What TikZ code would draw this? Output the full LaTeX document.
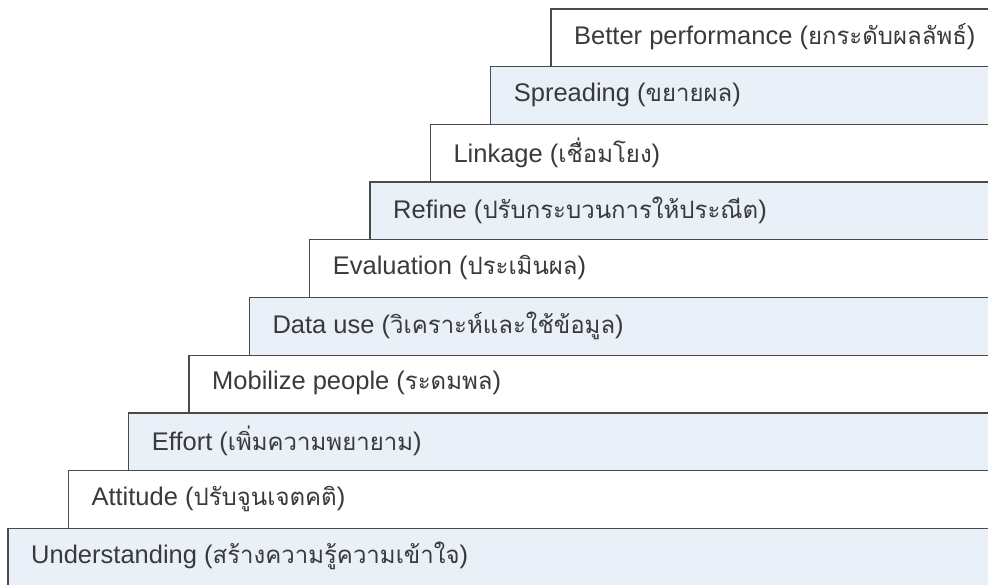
\documentclass[tikz,border=0pt]{standalone}
\usepackage{fontspec}
\setmainfont{Liberation Sans}
\newfontfamily\thaifont[Script=Thai,Scale=0.94]{Loma}
\definecolor{stepblue}{HTML}{EAF0F8}
\definecolor{edgegray}{HTML}{4A4A4A}
\definecolor{txtgray}{HTML}{3A3A3A}
\tikzset{
  stairwhite/.style={fill=white, draw=edgegray, line width=1.4pt},
  stairblue/.style={fill=stepblue, draw=edgegray, line width=1.4pt},
  lbl/.style={anchor=west, inner sep=0pt, text=txtgray, font=\fontsize{25.5}{30}\selectfont}
}
\newcommand{\thx}[1]{{\thaifont #1}}
\begin{document}
\begin{tikzpicture}[x=1pt,y=-1pt]
\useasboundingbox (0,0) rectangle (988,585);
\clip (0,0) rectangle (988,585);
\def\rowh{57.7}
\def\stepw{60.33}
\foreach \i/\sty/\txt in {
  0/stairwhite/{Better performance (\thx{ยกระดับผลลัพธ์})},
  1/stairblue/{Spreading (\thx{ขยายผล})},
  2/stairwhite/{Linkage (\thx{เชื่อมโยง})},
  3/stairblue/{Refine (\thx{ปรับกระบวนการให้ประณีต})},
  4/stairwhite/{Evaluation (\thx{ประเมินผล})},
  5/stairblue/{Data use (\thx{วิเคราะห์และใช้ข้อมูล})},
  6/stairwhite/{Mobilize people (\thx{ระดมพล})},
  7/stairblue/{Effort (\thx{เพิ่มความพยายาม})},
  8/stairwhite/{Attitude (\thx{ปรับจูนเจตคติ})},
  9/stairblue/{Understanding (\thx{สร้างความรู้ความเข้าใจ})}} {
  \pgfmathsetmacro\lx{551-\i*\stepw}
  \pgfmathsetmacro\ty{9+\i*\rowh}
  \path[\sty] (\lx,\ty) rectangle (1000,600);
  \node[lbl] (s\i) at (\lx+23,\ty+28) {\txt};
}
\end{tikzpicture}
\end{document}
